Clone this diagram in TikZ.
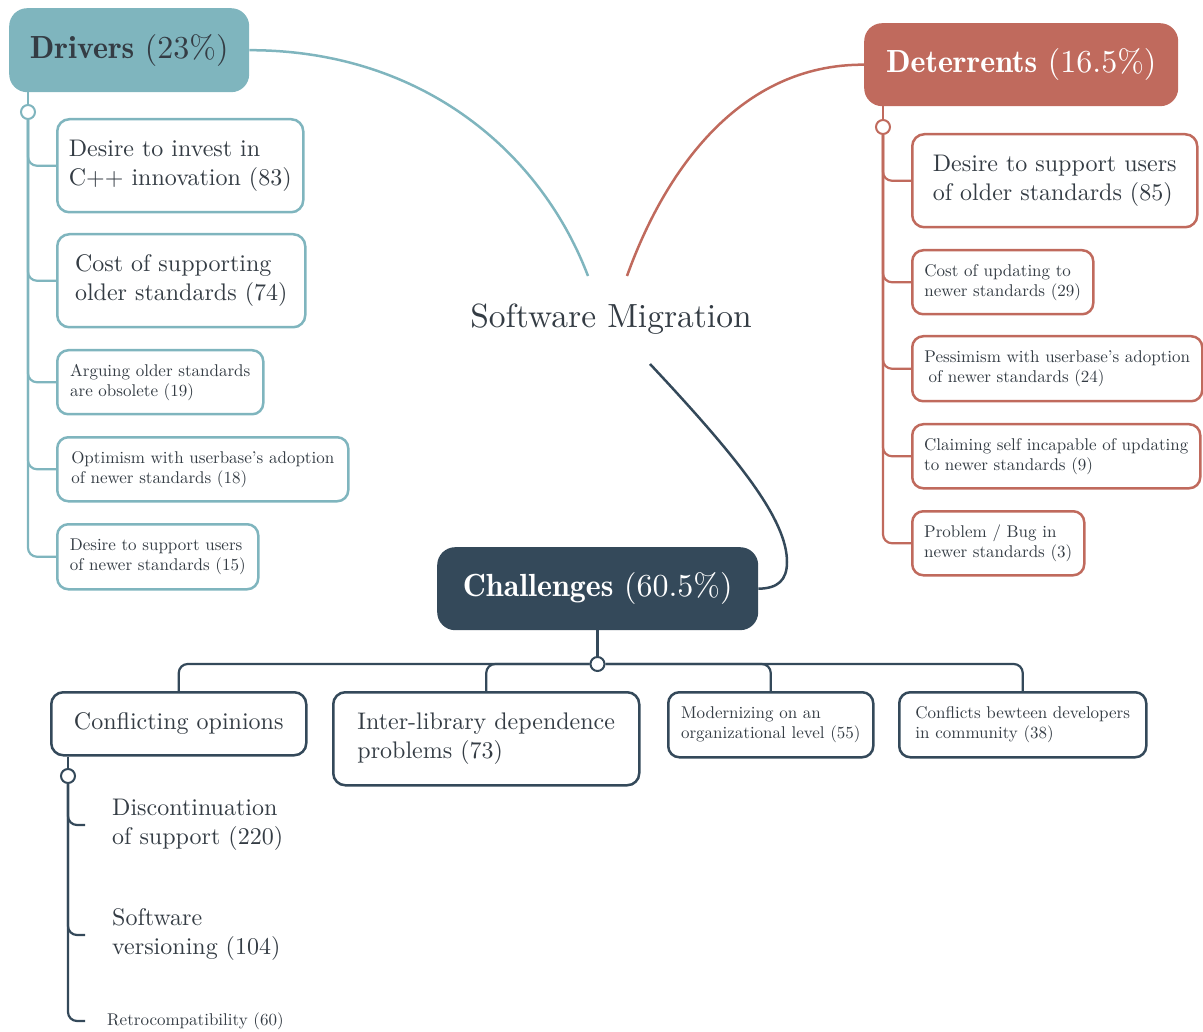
\documentclass[tikz,border=0pt]{standalone}
\usepackage{fontspec}
\setmainfont{lmroman10-regular.otf}[BoldFont=lmromandemi10-regular.otf]
\usepackage{tikz}
\usetikzlibrary{calc}
\usepackage[rgb]{xcolor}
\definecolor{drv}{HTML}{7FB5BE}
\definecolor{det}{HTML}{C06A5D}
\definecolor{chl}{HTML}{34495A}
\definecolor{ink}{HTML}{343C44}

\begin{document}
\begin{tikzpicture}[x=1pt, y=-1pt,
  title/.style={rounded corners=18pt, inner xsep=0pt, anchor=north west, font=\fontsize{32}{38}\selectfont},
  bigbox/.style={draw, fill=white, rounded corners=12pt, line width=2.5pt, text=ink, align=left, inner xsep=0pt, anchor=north west, font=\fontsize{24}{29}\selectfont},
  smallbox/.style={draw, fill=white, rounded corners=11pt, line width=2.5pt, text=ink, align=left, inner xsep=0pt, anchor=north west, font=\fontsize{17}{20}\selectfont},
  leaf/.style={text=ink, align=left, inner sep=0pt, anchor=west},
  knob/.style={circle, draw, fill=white, line width=2pt, minimum size=14pt, inner sep=0pt},
  branch/.style={line width=2.2pt, rounded corners=9pt},
  link/.style={line width=2.5pt},
]
  \useasboundingbox (0,0) rectangle (1203,1032);

  % Centre
  \node[text=ink, font=\fontsize{33.5}{40}\selectfont] (sm) at (611,319) {Software Migration};
  \coordinate (smL) at (588,276);
  \coordinate (smR) at (627,276);
  \coordinate (smB) at (650,364);

  % Drivers
  \node[title, fill=drv, text=ink, minimum width=240pt, minimum height=84pt] (drv) at (9,8) {\textbf{Drivers} (23\%)};
  \node[bigbox, draw=drv, minimum width=246pt, minimum height=93pt] (d1) at (56,118) {Desire to invest in\\C++ innovation (83)};
  \node[bigbox, draw=drv, minimum width=248pt, minimum height=93pt] (d2) at (56,233) {Cost of supporting\\older standards (74)};
  \node[smallbox, draw=drv, minimum width=206pt, minimum height=64pt] (d3) at (56,349) {Arguing older standards\\are obsolete (19)};
  \node[smallbox, draw=drv, minimum width=291pt, minimum height=64pt] (d4) at (56,436) {Optimism with userbase's adoption\\of newer standards (18)};
  \node[smallbox, draw=drv, minimum width=201pt, minimum height=65pt] (d5) at (56,523) {Desire to support users\\of newer standards (15)};
  \node[knob, draw=drv] (dk) at (28,112) {};
  \draw[branch, drv] (drv.south -| dk) -- (dk);
  \foreach \c in {d1,d2,d3,d4,d5}
    \draw[branch, drv] (dk) |- (\c.west);
  \draw[link, drv] (drv.east) .. controls (420,50) and (540,150) .. (smL);

  % Deterrents
  \node[title, fill=det, text=white, minimum width=314pt, minimum height=83pt] (det) at (864,23) {\textbf{Deterrents} (16.5\%)};
  \node[bigbox, draw=det, minimum width=285pt, minimum height=93pt] (e1) at (911,133) {Desire to support users\\of older standards (85)};
  \node[smallbox, draw=det, minimum width=181pt, minimum height=64pt] (e2) at (911,249) {Cost of updating to\\newer standards (29)};
  \node[smallbox, draw=det, minimum width=290pt, minimum height=65pt] (e3) at (911,335) {Pessimism with userbase's adoption\\\hspace*{.25em}of newer standards (24)};
  \node[smallbox, draw=det, minimum width=288pt, minimum height=64pt] (e4) at (911,423) {Claiming self incapable of updating\\to newer standards (9)};
  \node[smallbox, draw=det, minimum width=172pt, minimum height=64pt] (e5) at (911,510) {Problem / Bug in\\newer standards (3)};
  \node[knob, draw=det] (ek) at (883,127) {};
  \draw[branch, det] (det.south -| ek) -- (ek);
  \foreach \c in {e1,e2,e3,e4,e5}
    \draw[branch, det] (ek) |- (\c.west);
  \draw[link, det] (det.west) .. controls (740,64) and (665,170) .. (smR);

  % Challenges
  \node[title, fill=chl, text=white, minimum width=321pt, minimum height=83pt] (chl) at (437,547) {\textbf{Challenges} (60.5\%)};
  \node[bigbox, draw=chl, minimum width=255pt, minimum height=63pt] (c1) at (50,691) {Conflicting opinions};
  \node[bigbox, draw=chl, minimum width=306pt, minimum height=93pt] (c2) at (332,691) {Inter-library dependence\\problems (73)};
  \node[smallbox, draw=chl, minimum width=205pt, minimum height=65pt] (c3) at (667,691) {Modernizing on an\\organizational level (55)};
  \node[smallbox, draw=chl, minimum width=247pt, minimum height=65pt] (c4) at (898,691) {Conflicts bewteen developers\\in community (38)};
  \node[knob, draw=chl] (ck) at (597.5,664) {};
  \draw[branch, chl] (ck |- chl.south) -- (ck);
  \foreach \c in {c1,c2,c3,c4}
    \draw[branch, chl] (ck) -| (\c.north);
  \draw[link, chl] (smB) .. controls (740,460) and (787,520) .. (787,562)
    .. controls (787,580) and (778,588.5) .. (chl.east);

  % Conflicting opinions
  \node[leaf, font=\fontsize{24}{29}\selectfont] (o1) at (112,825) {Discontinuation\\of support (220)};
  \node[leaf, font=\fontsize{24}{29}\selectfont] (o2) at (112,935) {Software\\versioning (104)};
  \node[leaf, font=\fontsize{17}{20}\selectfont] (o3) at (107,1021) {Retrocompatibility (60)};
  \node[knob, draw=chl] (ok) at (68,776) {};
  \draw[branch, chl] (c1.south -| ok) -- (ok);
  \draw[branch, chl] (ok) |- ($(o1.west)+(-27,0)$);
  \draw[branch, chl] (ok) |- ($(o2.west)+(-27,0)$);
  \draw[branch, chl] (ok) |- ($(o3.west)+(-22,0)$);
\end{tikzpicture}
\end{document}
